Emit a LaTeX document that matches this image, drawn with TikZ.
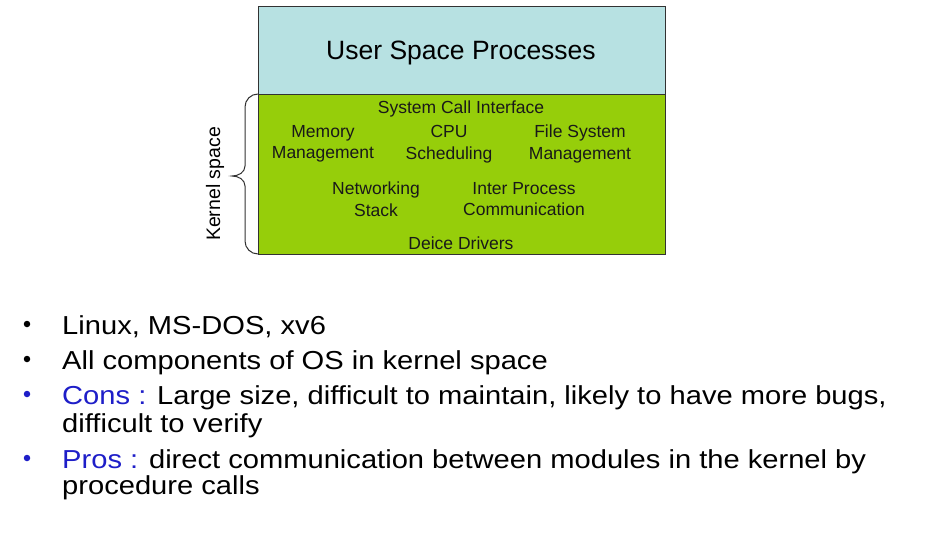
\documentclass[tikz,border=0pt]{standalone}
\usepackage{fontspec}
\setmainfont{Liberation Sans}
\usetikzlibrary{calc}
\definecolor{userc}{RGB}{183,225,226}
\definecolor{kernc}{RGB}{150,206,10}
\definecolor{bordc}{RGB}{50,50,50}
\definecolor{bluec}{RGB}{30,30,200}
\tikzset{
  layer/.style={draw=bordc, line width=1pt, minimum width=407pt, inner sep=0pt, outer sep=0pt, anchor=north west},
  small/.style={font=\fontsize{17.5}{21.5}\selectfont, align=center, inner sep=0pt, text=black!90},
  bullettext/.style={font=\fontsize{26}{30}\selectfont, anchor=base west, inner sep=0pt, xscale=1.12, transform shape},
  dot/.style={circle, fill, inner sep=0pt, minimum size=6.5pt},
}
\begin{document}
\begin{tikzpicture}[x=1pt,y=-1pt]
\useasboundingbox (0,0) rectangle (928,557);
\node[layer, fill=userc, minimum height=88pt] (user) at (258,6) {};
\node[layer, fill=kernc, minimum height=160pt] (kern) at (258,94) {};
\node[font=\fontsize{26.5}{30}\selectfont] (usertxt) at (461,53) {User Space Processes};
\node[small] (sci) at (461,109) {System Call Interface};
\node[small] (mem) at (323,144) {Memory\\Management};
\node[small] (cpu) at (449,144) {CPU\\Scheduling};
\node[small] (fs) at (580,144) {File System\\Management};
\node[small] (net) at (376,199) {Networking\\Stack};
\node[small] (ipc) at (524,199) {Inter Process\\Communication};
\node[small] (dd) at (461,243) {Deice Drivers};
% brace
\draw[bordc, line width=1pt] (kern.north west) to[out=180,in=90] ($(kern.north west)+(-13,13)$) -- ($(kern.west)+(-13,-8)$) to[out=-90,in=0] ($(kern.west)+(-26,2)$) to[out=0,in=90] ($(kern.west)+(-13,12)$) -- ($(kern.south west)+(-13,-13)$) to[out=-90,in=180] (kern.south west);
\node[font=\fontsize{19.5}{22}\selectfont, rotate=90] (ks) at (215,184) {Kernel space};
% bullets
\node[dot] (b1) at (27,324) {};
\node[bullettext] (t1) at (62,334) {Linux, MS-DOS, xv6};
\node[dot] (b2) at (27,359) {};
\node[bullettext] (t2) at (62,369) {All components of OS in kernel space};
\node[dot, bluec] (b3) at (27,394) {};
\node[bullettext] (t3) at (62,404) {\textcolor{bluec}{Cons :} Large size, difficult to maintain, likely to have more bugs,};
\node[bullettext] (t3b) at (62,432) {difficult to verify};
\node[dot, bluec] (b4) at (27,458) {};
\node[bullettext] (t4) at (62,468) {\textcolor{bluec}{Pros :} direct communication between modules in the kernel by};
\node[bullettext] (t4b) at (62,494) {procedure calls};
\end{tikzpicture}
\end{document}
